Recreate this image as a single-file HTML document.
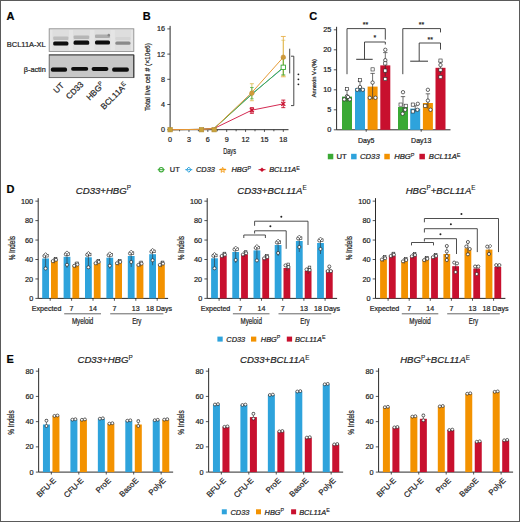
<!DOCTYPE html>
<html><head><meta charset="utf-8"><style>
html,body{margin:0;padding:0;background:#fff;width:520px;height:522px;overflow:hidden}
svg{display:block}
text{font-family:"Liberation Sans",sans-serif;stroke:#2a2a2a;stroke-width:0.22px}
</style></head><body>
<svg width="520" height="522" viewBox="0 0 520 522" font-family="Liberation Sans, sans-serif">
<rect width="520" height="522" fill="#fff"/>
<rect x="0.5" y="0.5" width="519" height="521" fill="none" stroke="#5a5a5a" stroke-width="1"/>
<text x="6.4" y="19.7" font-size="11" text-anchor="start" font-weight="bold" font-style="normal" fill="#000" >A</text>
<text x="142.8" y="19.7" font-size="11" text-anchor="start" font-weight="bold" font-style="normal" fill="#000" >B</text>
<text x="309.3" y="19.9" font-size="11" text-anchor="start" font-weight="bold" font-style="normal" fill="#000" >C</text>
<text x="6.6" y="192.6" font-size="11" text-anchor="start" font-weight="bold" font-style="normal" fill="#000" >D</text>
<text x="6.6" y="362.6" font-size="11" text-anchor="start" font-weight="bold" font-style="normal" fill="#000" >E</text>
<defs><filter id="bl" x="-20%" y="-50%" width="140%" height="200%"><feGaussianBlur stdDeviation="0.7"/></filter><filter id="bl2" x="-20%" y="-50%" width="140%" height="200%"><feGaussianBlur stdDeviation="0.5"/></filter></defs>
<rect x="49.2" y="28.8" width="84.6" height="22.6" fill="#e5e5e5" stroke="#8e8e8e" stroke-width="0.9"/>
<rect x="52.5" y="30" width="16.5" height="20.5" fill="#dedede" filter="url(#bl)"/>
<rect x="73" y="30" width="17" height="20.5" fill="#dedede" filter="url(#bl)"/>
<rect x="94.5" y="30" width="16" height="20.5" fill="#dedede" filter="url(#bl)"/>
<rect x="114.8" y="30" width="16.2" height="20.5" fill="#dedede" filter="url(#bl)"/>
<rect x="49.2" y="54.8" width="84.6" height="22.8" fill="#c7c7c7" stroke="#5e5e5e" stroke-width="0.9"/>
<line x1="49.2" y1="55" x2="133.8" y2="55" stroke="#444" stroke-width="0.8" />
<line x1="133.8" y1="55" x2="133.8" y2="77.6" stroke="#333" stroke-width="1.0" />
<rect x="53.2" y="36.6" width="15.2" height="3.4" rx="1" fill="#bdbdbd" filter="url(#bl)"/>
<rect x="53.2" y="41.6" width="15.2" height="4" rx="1.5" fill="#0a0a0a" filter="url(#bl2)"/>
<rect x="73.6" y="35.4" width="15.6" height="3.6" rx="1" fill="#b5b5b5" filter="url(#bl)"/>
<rect x="73.6" y="40.4" width="15.6" height="4.3" rx="1.5" fill="#0a0a0a" filter="url(#bl2)"/>
<rect x="95" y="34.6" width="15" height="3.4" rx="1" fill="#adadad" filter="url(#bl)"/>
<rect x="95" y="40.4" width="15" height="4.1" rx="1.5" fill="#0a0a0a" filter="url(#bl2)"/>
<rect x="115.3" y="37" width="15.2" height="3" rx="1" fill="#d4d4d4" filter="url(#bl)"/>
<rect x="115.3" y="41.4" width="15.2" height="3.3" rx="1.5" fill="#8a8a8a" filter="url(#bl2)"/>
<rect x="50.8" y="67.6" width="16.3" height="4.2" rx="1.8" fill="#0c0c0c" filter="url(#bl2)"/>
<rect x="71.1" y="66.9" width="17.1" height="3.8" rx="1.8" fill="#0c0c0c" filter="url(#bl2)"/>
<rect x="91.6" y="67.1" width="16.8" height="3.8" rx="1.8" fill="#0c0c0c" filter="url(#bl2)"/>
<rect x="112.1" y="67.6" width="16.8" height="4.2" rx="1.8" fill="#0c0c0c" filter="url(#bl2)"/>
<ellipse cx="108.8" cy="35.2" rx="1.2" ry="1.4" fill="#888" filter="url(#bl2)"/>
<text x="45.8" y="47.4" font-size="7.5" text-anchor="end" font-weight="normal" font-style="normal" fill="#222" >BCL11A-XL</text>
<text x="45.8" y="71.6" font-size="7.3" text-anchor="end" font-weight="normal" font-style="normal" fill="#222" >β-actin</text>
<text x="0" y="0" font-size="8.2" text-anchor="end" fill="#222" transform="translate(64.5,86) rotate(-45)">UT</text>
<text x="0" y="0" font-size="8.2" text-anchor="end" fill="#222" transform="translate(84,85) rotate(-45)">CD33</text>
<text x="0" y="0" font-size="8.2" text-anchor="end" fill="#222" transform="translate(105,85.5) rotate(-45)">HBG<tspan font-size="5.9" dy="-2.95" font-style="normal" style="stroke-width:0.12px">P</tspan></text>
<text x="0" y="0" font-size="8.2" text-anchor="end" fill="#222" transform="translate(128,86) rotate(-45)">BCL11A<tspan font-size="5.9" dy="-2.95" font-style="normal" style="stroke-width:0.12px">E</tspan></text>
<line x1="170.1" y1="25.9" x2="170.1" y2="129.7" stroke="#2a2a2a" stroke-width="1.0" />
<line x1="170.1" y1="129.7" x2="288.5" y2="129.7" stroke="#2a2a2a" stroke-width="1.0" />
<line x1="167.3" y1="129.7" x2="170.1" y2="129.7" stroke="#2a2a2a" stroke-width="0.8" />
<text x="164.9" y="132.2" font-size="7.2" text-anchor="end" font-weight="normal" font-style="normal" fill="#222" >0</text>
<line x1="167.3" y1="104.5" x2="170.1" y2="104.5" stroke="#2a2a2a" stroke-width="0.8" />
<text x="164.9" y="107" font-size="7.2" text-anchor="end" font-weight="normal" font-style="normal" fill="#222" >4</text>
<line x1="167.3" y1="79.3" x2="170.1" y2="79.3" stroke="#2a2a2a" stroke-width="0.8" />
<text x="164.9" y="81.8" font-size="7.2" text-anchor="end" font-weight="normal" font-style="normal" fill="#222" >8</text>
<line x1="167.3" y1="54.1" x2="170.1" y2="54.1" stroke="#2a2a2a" stroke-width="0.8" />
<text x="164.9" y="56.6" font-size="7.2" text-anchor="end" font-weight="normal" font-style="normal" fill="#222" >12</text>
<line x1="167.3" y1="28.9" x2="170.1" y2="28.9" stroke="#2a2a2a" stroke-width="0.8" />
<text x="164.9" y="31.4" font-size="7.2" text-anchor="end" font-weight="normal" font-style="normal" fill="#222" >16</text>
<line x1="170.1" y1="129.7" x2="170.1" y2="131.9" stroke="#2a2a2a" stroke-width="0.8" />
<line x1="179.53" y1="129.7" x2="179.53" y2="131.3" stroke="#2a2a2a" stroke-width="0.8" />
<line x1="188.97" y1="129.7" x2="188.97" y2="131.9" stroke="#2a2a2a" stroke-width="0.8" />
<line x1="198.4" y1="129.7" x2="198.4" y2="131.3" stroke="#2a2a2a" stroke-width="0.8" />
<line x1="207.83" y1="129.7" x2="207.83" y2="131.9" stroke="#2a2a2a" stroke-width="0.8" />
<line x1="217.27" y1="129.7" x2="217.27" y2="131.3" stroke="#2a2a2a" stroke-width="0.8" />
<line x1="226.7" y1="129.7" x2="226.7" y2="131.9" stroke="#2a2a2a" stroke-width="0.8" />
<line x1="236.13" y1="129.7" x2="236.13" y2="131.3" stroke="#2a2a2a" stroke-width="0.8" />
<line x1="245.57" y1="129.7" x2="245.57" y2="131.9" stroke="#2a2a2a" stroke-width="0.8" />
<line x1="255" y1="129.7" x2="255" y2="131.3" stroke="#2a2a2a" stroke-width="0.8" />
<line x1="264.44" y1="129.7" x2="264.44" y2="131.9" stroke="#2a2a2a" stroke-width="0.8" />
<line x1="273.87" y1="129.7" x2="273.87" y2="131.3" stroke="#2a2a2a" stroke-width="0.8" />
<line x1="283.3" y1="129.7" x2="283.3" y2="131.9" stroke="#2a2a2a" stroke-width="0.8" />
<text x="170.1" y="141.8" font-size="7.2" text-anchor="middle" font-weight="normal" font-style="normal" fill="#222" >0</text>
<text x="188.97" y="141.8" font-size="7.2" text-anchor="middle" font-weight="normal" font-style="normal" fill="#222" >3</text>
<text x="207.83" y="141.8" font-size="7.2" text-anchor="middle" font-weight="normal" font-style="normal" fill="#222" >6</text>
<text x="226.7" y="141.8" font-size="7.2" text-anchor="middle" font-weight="normal" font-style="normal" fill="#222" >9</text>
<text x="245.57" y="141.8" font-size="7.2" text-anchor="middle" font-weight="normal" font-style="normal" fill="#222" >12</text>
<text x="264.44" y="141.8" font-size="7.2" text-anchor="middle" font-weight="normal" font-style="normal" fill="#222" >15</text>
<text x="283.3" y="141.8" font-size="7.2" text-anchor="middle" font-weight="normal" font-style="normal" fill="#222" >18</text>
<text x="0" y="0" font-size="9" fill="#222" text-anchor="middle" transform="translate(229.6,154.1) scale(0.62,1)">Days</text>
<text x="0" y="0" font-size="8" fill="#222" text-anchor="middle" transform="translate(149.7,77) rotate(-90) scale(0.83,1)">Total live cell # (×10e6)</text>
<polyline points="170.1,129.7 201.54,129.38 214.12,128.44 251.86,93.79 283.3,67.96" fill="none" stroke="#2ea3dc" stroke-width="1.0"/>
<polyline points="170.1,129.7 201.54,129.38 214.12,128.44 251.86,94.42 283.3,67.33" fill="none" stroke="#52ab42" stroke-width="1.0"/>
<polyline points="170.1,129.7 201.54,129.38 214.12,128.44 251.86,110.17 283.3,103.87" fill="none" stroke="#d42a52" stroke-width="1.0"/>
<polyline points="170.1,129.7 201.54,129.38 214.12,128.44 251.86,92.53 283.3,57.25" fill="none" stroke="#e49a35" stroke-width="1.0"/>
<line x1="283.3" y1="36.46" x2="283.3" y2="76.78" stroke="#e8b04a" stroke-width="0.9" />
<line x1="280.9" y1="36.46" x2="285.7" y2="36.46" stroke="#e8b04a" stroke-width="0.9" />
<line x1="280.9" y1="76.78" x2="285.7" y2="76.78" stroke="#e8b04a" stroke-width="0.9" />
<line x1="283.3" y1="40.24" x2="283.3" y2="75.52" stroke="#d9b84a" stroke-width="0.6" />
<line x1="281.3" y1="40.24" x2="285.3" y2="40.24" stroke="#d9b84a" stroke-width="0.6" />
<line x1="281.3" y1="75.52" x2="285.3" y2="75.52" stroke="#d9b84a" stroke-width="0.6" />
<line x1="283.3" y1="58.51" x2="283.3" y2="74.89" stroke="#3aa935" stroke-width="0.8" />
<line x1="281.3" y1="58.51" x2="285.3" y2="58.51" stroke="#3aa935" stroke-width="0.8" />
<line x1="281.3" y1="74.89" x2="285.3" y2="74.89" stroke="#3aa935" stroke-width="0.8" />
<line x1="251.86" y1="83.71" x2="251.86" y2="100.72" stroke="#d9b84a" stroke-width="0.8" />
<line x1="249.86" y1="83.71" x2="253.86" y2="83.71" stroke="#d9b84a" stroke-width="0.8" />
<line x1="249.86" y1="100.72" x2="253.86" y2="100.72" stroke="#d9b84a" stroke-width="0.8" />
<line x1="251.86" y1="87.49" x2="251.86" y2="98.83" stroke="#3aa935" stroke-width="0.7" />
<line x1="250.06" y1="87.49" x2="253.66" y2="87.49" stroke="#3aa935" stroke-width="0.7" />
<line x1="250.06" y1="98.83" x2="253.66" y2="98.83" stroke="#3aa935" stroke-width="0.7" />
<line x1="283.3" y1="100.09" x2="283.3" y2="107.65" stroke="#c8102e" stroke-width="0.9" />
<line x1="281.3" y1="100.09" x2="285.3" y2="100.09" stroke="#c8102e" stroke-width="0.9" />
<line x1="281.3" y1="107.65" x2="285.3" y2="107.65" stroke="#c8102e" stroke-width="0.9" />
<line x1="251.86" y1="107.65" x2="251.86" y2="113.32" stroke="#c8102e" stroke-width="0.9" />
<line x1="249.86" y1="107.65" x2="253.86" y2="107.65" stroke="#c8102e" stroke-width="0.9" />
<line x1="249.86" y1="113.32" x2="253.86" y2="113.32" stroke="#c8102e" stroke-width="0.9" />
<rect x="167.9" y="127.5" width="4.4" height="4.4" fill="#c9a23c" stroke="#b08a30" stroke-width="0.6"/>
<rect x="199.34" y="127.5" width="4.4" height="4.4" fill="#c9a23c" stroke="#b08a30" stroke-width="0.6"/>
<rect x="211.92" y="127.5" width="4.4" height="4.4" fill="#c9a23c" stroke="#b08a30" stroke-width="0.6"/>
<rect x="281.1" y="65.13" width="4.4" height="4.4" fill="#fff" stroke="#3aa935" stroke-width="0.9"/>
<circle cx="283.3" cy="57.25" r="2.3" fill="#d09a3a" stroke="#c08a30" stroke-width="0.5"/>
<circle cx="251.86" cy="93.16" r="2.3" fill="#d09a3a" stroke="#c08a30" stroke-width="0.5"/>
<path d="M249.86,108.17 L253.86,112.17 M253.86,108.17 L249.86,112.17" stroke="#c8102e" stroke-width="1.3"/>
<path d="M281.3,101.87 L285.3,105.87 M285.3,101.87 L281.3,105.87" stroke="#c8102e" stroke-width="1.3"/>
<line x1="289.7" y1="48.7" x2="289.7" y2="73.4" stroke="#333" stroke-width="0.9" />
<polyline points="291,56.2 293.8,56.2 293.8,105.6 291,105.6" fill="none" stroke="#333" stroke-width="0.9"/>
<circle cx="298.4" cy="74.3" r="0.9" fill="#222"/>
<circle cx="298.4" cy="79.3" r="0.9" fill="#222"/>
<circle cx="298.4" cy="84.3" r="0.9" fill="#222"/>
<line x1="157.7" y1="169.7" x2="164.7" y2="169.7" stroke="#3aa935" stroke-width="1"/>
<circle cx="161.2" cy="169.7" r="2.2" fill="none" stroke="#3aa935" stroke-width="1.1"/>
<text x="169.8" y="172.4" font-size="7.4" text-anchor="start" font-weight="normal" font-style="normal" fill="#222" >UT</text>
<line x1="185.3" y1="169.7" x2="192.3" y2="169.7" stroke="#2ea3dc" stroke-width="1"/>
<path d="M188.8,167.1 L191.2,169.7 L188.8,172.3 L186.4,169.7 Z" fill="none" stroke="#2ea3dc" stroke-width="1"/>
<text x="196" y="172.4" font-size="7.4" text-anchor="start" font-weight="normal" font-style="italic" fill="#222" >CD33</text>
<line x1="219.2" y1="169.7" x2="226.2" y2="169.7" stroke="#f39200" stroke-width="1"/>
<polygon points="222.7,167.3 223.41,169.13 225.36,169.23 223.84,170.47 224.35,172.37 222.7,171.3 221.05,172.37 221.56,170.47 220.04,169.23 221.99,169.13" fill="none" stroke="#f39200" stroke-width="0.8"/>
<text x="231.4" y="172.4" font-size="7.4" text-anchor="start" font-weight="normal" font-style="italic" fill="#222" >HBG<tspan font-size="5.33" dy="-2.66" font-style="normal" style="stroke-width:0.12px">P</tspan></text>
<line x1="258.5" y1="169.7" x2="265.5" y2="169.7" stroke="#c8102e" stroke-width="1"/>
<path d="M262,167.4 L264.3,169.7 L262,172 L259.7,169.7 Z" fill="#c8102e"/>
<text x="269.2" y="172.4" font-size="7.4" text-anchor="start" font-weight="normal" font-style="italic" fill="#222" >BCL11A<tspan font-size="5.33" dy="-2.66" font-style="normal" style="stroke-width:0.12px">E</tspan></text>
<line x1="336.6" y1="26.8" x2="336.6" y2="129.8" stroke="#2a2a2a" stroke-width="1.0" />
<line x1="336.6" y1="129.8" x2="450.5" y2="129.8" stroke="#2a2a2a" stroke-width="1.0" />
<line x1="333.8" y1="129.8" x2="336.6" y2="129.8" stroke="#2a2a2a" stroke-width="0.8" />
<text x="331.4" y="132.4" font-size="7.4" text-anchor="end" font-weight="normal" font-style="normal" fill="#222" >0</text>
<line x1="333.8" y1="109.8" x2="336.6" y2="109.8" stroke="#2a2a2a" stroke-width="0.8" />
<text x="331.4" y="112.4" font-size="7.4" text-anchor="end" font-weight="normal" font-style="normal" fill="#222" >5</text>
<line x1="333.8" y1="89.8" x2="336.6" y2="89.8" stroke="#2a2a2a" stroke-width="0.8" />
<text x="331.4" y="92.4" font-size="7.4" text-anchor="end" font-weight="normal" font-style="normal" fill="#222" >10</text>
<line x1="333.8" y1="69.8" x2="336.6" y2="69.8" stroke="#2a2a2a" stroke-width="0.8" />
<text x="331.4" y="72.4" font-size="7.4" text-anchor="end" font-weight="normal" font-style="normal" fill="#222" >15</text>
<line x1="333.8" y1="49.8" x2="336.6" y2="49.8" stroke="#2a2a2a" stroke-width="0.8" />
<text x="331.4" y="52.4" font-size="7.4" text-anchor="end" font-weight="normal" font-style="normal" fill="#222" >20</text>
<line x1="333.8" y1="29.8" x2="336.6" y2="29.8" stroke="#2a2a2a" stroke-width="0.8" />
<text x="331.4" y="32.4" font-size="7.4" text-anchor="end" font-weight="normal" font-style="normal" fill="#222" >25</text>
<line x1="366.2" y1="129.8" x2="366.2" y2="131.8" stroke="#2a2a2a" stroke-width="0.8" />
<line x1="421.2" y1="129.8" x2="421.2" y2="131.8" stroke="#2a2a2a" stroke-width="0.8" />
<text x="0" y="0" font-size="5.6" fill="#222" text-anchor="middle" transform="translate(316.4,78.2) rotate(-90) scale(1.02,1)">Annexin V+(%)</text>
<text x="366.2" y="142.6" font-size="7" text-anchor="middle" font-weight="normal" font-style="normal" fill="#222" >Day5</text>
<text x="421.2" y="142.6" font-size="7" text-anchor="middle" font-weight="normal" font-style="normal" fill="#222" >Day13</text>
<rect x="342" y="96.6" width="10" height="33.2" fill="#3aa935" />
<rect x="355" y="88.2" width="10" height="41.6" fill="#2ea3dc" />
<rect x="367.6" y="86.6" width="10" height="43.2" fill="#f39200" />
<rect x="380.3" y="65.4" width="10" height="64.4" fill="#c8102e" />
<rect x="398" y="107" width="10" height="22.8" fill="#3aa935" />
<rect x="410.2" y="108.6" width="10" height="21.2" fill="#2ea3dc" />
<rect x="422.9" y="103" width="10" height="26.8" fill="#f39200" />
<rect x="435.5" y="67.8" width="10" height="62" fill="#c8102e" />
<line x1="347" y1="89.8" x2="347" y2="101.8" stroke="#333" stroke-width="0.7" />
<line x1="344.8" y1="89.8" x2="349.2" y2="89.8" stroke="#333" stroke-width="0.7" />
<line x1="360" y1="81" x2="360" y2="92.2" stroke="#333" stroke-width="0.7" />
<line x1="357.8" y1="81" x2="362.2" y2="81" stroke="#333" stroke-width="0.7" />
<line x1="372.6" y1="73.4" x2="372.6" y2="99.4" stroke="#333" stroke-width="0.7" />
<line x1="370.4" y1="73.4" x2="374.8" y2="73.4" stroke="#333" stroke-width="0.7" />
<line x1="385.3" y1="52.6" x2="385.3" y2="76.2" stroke="#333" stroke-width="0.7" />
<line x1="383.1" y1="52.6" x2="387.5" y2="52.6" stroke="#333" stroke-width="0.7" />
<line x1="403" y1="96.6" x2="403" y2="113" stroke="#333" stroke-width="0.7" />
<line x1="400.8" y1="96.6" x2="405.2" y2="96.6" stroke="#333" stroke-width="0.7" />
<line x1="415.2" y1="105.8" x2="415.2" y2="111.8" stroke="#333" stroke-width="0.7" />
<line x1="413" y1="105.8" x2="417.4" y2="105.8" stroke="#333" stroke-width="0.7" />
<line x1="427.9" y1="93.8" x2="427.9" y2="108.6" stroke="#333" stroke-width="0.7" />
<line x1="425.7" y1="93.8" x2="430.1" y2="93.8" stroke="#333" stroke-width="0.7" />
<line x1="440.5" y1="61.8" x2="440.5" y2="73.8" stroke="#333" stroke-width="0.7" />
<line x1="438.3" y1="61.8" x2="442.7" y2="61.8" stroke="#333" stroke-width="0.7" />
<rect x="345.4" y="87.4" width="3.2" height="3.2" fill="#fff" stroke="#262626" stroke-width="0.6"/>
<circle cx="347" cy="96.2" r="1.7" fill="#fff" stroke="#262626" stroke-width="0.7"/>
<circle cx="344.2" cy="99.4" r="1.7" fill="#fff" stroke="#262626" stroke-width="0.7"/>
<circle cx="349.8" cy="99.4" r="1.7" fill="#fff" stroke="#262626" stroke-width="0.7"/>
<circle cx="348" cy="97" r="1.7" fill="#fff" stroke="#262626" stroke-width="0.7"/>
<rect x="358.4" y="78.6" width="3.2" height="3.2" fill="#fff" stroke="#262626" stroke-width="0.6"/>
<circle cx="360" cy="87" r="1.7" fill="#fff" stroke="#262626" stroke-width="0.7"/>
<circle cx="357.2" cy="89.8" r="1.7" fill="#fff" stroke="#262626" stroke-width="0.7"/>
<circle cx="362.8" cy="89.8" r="1.7" fill="#fff" stroke="#262626" stroke-width="0.7"/>
<rect x="371" y="67.8" width="3.2" height="3.2" fill="#fff" stroke="#262626" stroke-width="0.6"/>
<circle cx="372.6" cy="82.6" r="1.7" fill="#fff" stroke="#262626" stroke-width="0.7"/>
<circle cx="369.8" cy="97.8" r="1.7" fill="#fff" stroke="#262626" stroke-width="0.7"/>
<circle cx="375.4" cy="97.8" r="1.7" fill="#fff" stroke="#262626" stroke-width="0.7"/>
<circle cx="385.3" cy="49.8" r="1.7" fill="#fff" stroke="#262626" stroke-width="0.7"/>
<circle cx="385.3" cy="60.2" r="1.7" fill="#fff" stroke="#262626" stroke-width="0.7"/>
<rect x="383.7" y="61.8" width="3.2" height="3.2" fill="#fff" stroke="#262626" stroke-width="0.6"/>
<rect x="383.7" y="69" width="3.2" height="3.2" fill="#fff" stroke="#262626" stroke-width="0.6"/>
<rect x="383.7" y="77.4" width="3.2" height="3.2" fill="#fff" stroke="#262626" stroke-width="0.6"/>
<circle cx="403" cy="92.2" r="1.7" fill="#fff" stroke="#262626" stroke-width="0.7"/>
<rect x="399" y="103" width="3.2" height="3.2" fill="#fff" stroke="#262626" stroke-width="0.6"/>
<circle cx="405.2" cy="109.8" r="1.7" fill="#fff" stroke="#262626" stroke-width="0.7"/>
<circle cx="402.6" cy="113.8" r="1.7" fill="#fff" stroke="#262626" stroke-width="0.7"/>
<rect x="404.2" y="104.2" width="3.2" height="3.2" fill="#fff" stroke="#262626" stroke-width="0.6"/>
<rect x="411.2" y="103" width="3.2" height="3.2" fill="#fff" stroke="#262626" stroke-width="0.6"/>
<circle cx="417.8" cy="103.8" r="1.7" fill="#fff" stroke="#262626" stroke-width="0.7"/>
<rect x="411.2" y="109.8" width="3.2" height="3.2" fill="#fff" stroke="#262626" stroke-width="0.6"/>
<circle cx="417.4" cy="109.8" r="1.7" fill="#fff" stroke="#262626" stroke-width="0.7"/>
<circle cx="427.9" cy="89.8" r="1.7" fill="#fff" stroke="#262626" stroke-width="0.7"/>
<circle cx="427.9" cy="100.6" r="1.7" fill="#fff" stroke="#262626" stroke-width="0.7"/>
<rect x="423.7" y="104.2" width="3.2" height="3.2" fill="#fff" stroke="#262626" stroke-width="0.6"/>
<circle cx="430.5" cy="109.8" r="1.7" fill="#fff" stroke="#262626" stroke-width="0.7"/>
<rect x="438.9" y="59" width="3.2" height="3.2" fill="#fff" stroke="#262626" stroke-width="0.6"/>
<circle cx="440.5" cy="65" r="1.7" fill="#fff" stroke="#262626" stroke-width="0.7"/>
<rect x="438.9" y="68.2" width="3.2" height="3.2" fill="#fff" stroke="#262626" stroke-width="0.6"/>
<rect x="438.9" y="75.4" width="3.2" height="3.2" fill="#fff" stroke="#262626" stroke-width="0.6"/>
<polyline points="347,74.2 347,28.6 385.3,28.6 385.3,39.6" fill="none" stroke="#333" stroke-width="0.9"/>
<polyline points="364.5,59.2 364.5,42 385.3,42 385.3,44.5" fill="none" stroke="#333" stroke-width="0.9"/>
<line x1="356.2" y1="59.3" x2="372.7" y2="59.3" stroke="#333" stroke-width="1.0" />
<text x="365.6" y="26.8" font-size="7" text-anchor="middle" font-weight="normal" font-style="normal" fill="#222" >**</text>
<text x="374.8" y="40.3" font-size="7" text-anchor="middle" font-weight="normal" font-style="normal" fill="#222" >*</text>
<polyline points="402.8,74.2 402.8,28.6 440.5,28.6 440.5,32.4" fill="none" stroke="#333" stroke-width="0.9"/>
<polyline points="419.2,61 419.2,43 440.5,43 440.5,49.6" fill="none" stroke="#333" stroke-width="0.9"/>
<line x1="410.2" y1="61.2" x2="428" y2="61.2" stroke="#333" stroke-width="1.0" />
<text x="421.4" y="26.8" font-size="7" text-anchor="middle" font-weight="normal" font-style="normal" fill="#222" >**</text>
<text x="430.2" y="42.2" font-size="7" text-anchor="middle" font-weight="normal" font-style="normal" fill="#222" >**</text>
<rect x="327.8" y="153.8" width="5.5" height="5.5" fill="#3aa935" />
<rect x="351.1" y="153.8" width="5.5" height="5.5" fill="#2ea3dc" />
<rect x="384.3" y="153.8" width="5.5" height="5.5" fill="#f39200" />
<rect x="419.4" y="153.8" width="5.5" height="5.5" fill="#c8102e" />
<text x="336.4" y="159.3" font-size="7.7" text-anchor="start" font-weight="normal" font-style="normal" fill="#222" >UT</text>
<text x="360" y="159.3" font-size="7.7" text-anchor="start" font-weight="normal" font-style="italic" fill="#222" >CD33</text>
<text x="394.2" y="159.3" font-size="7.7" text-anchor="start" font-weight="normal" font-style="italic" fill="#222" >HBG<tspan font-size="5.54" dy="-2.77" font-style="normal" style="stroke-width:0.12px">P</tspan></text>
<text x="428.8" y="159.3" font-size="7.7" text-anchor="start" font-weight="normal" font-style="italic" fill="#222" >BCL11A<tspan font-size="5.54" dy="-2.77" font-style="normal" style="stroke-width:0.12px">E</tspan></text>
<line x1="38.2" y1="198.15" x2="38.2" y2="298.4" stroke="#2a2a2a" stroke-width="1.0" />
<line x1="38.2" y1="298.4" x2="168.1" y2="298.4" stroke="#2a2a2a" stroke-width="1.0" />
<line x1="35.4" y1="298.4" x2="38.2" y2="298.4" stroke="#2a2a2a" stroke-width="0.8" />
<text x="33.2" y="300.95" font-size="7.3" text-anchor="end" font-weight="normal" font-style="normal" fill="#222" >0</text>
<line x1="35.4" y1="278.95" x2="38.2" y2="278.95" stroke="#2a2a2a" stroke-width="0.8" />
<text x="33.2" y="281.5" font-size="7.3" text-anchor="end" font-weight="normal" font-style="normal" fill="#222" >20</text>
<line x1="35.4" y1="259.5" x2="38.2" y2="259.5" stroke="#2a2a2a" stroke-width="0.8" />
<text x="33.2" y="262.05" font-size="7.3" text-anchor="end" font-weight="normal" font-style="normal" fill="#222" >40</text>
<line x1="35.4" y1="240.05" x2="38.2" y2="240.05" stroke="#2a2a2a" stroke-width="0.8" />
<text x="33.2" y="242.6" font-size="7.3" text-anchor="end" font-weight="normal" font-style="normal" fill="#222" >60</text>
<line x1="35.4" y1="220.6" x2="38.2" y2="220.6" stroke="#2a2a2a" stroke-width="0.8" />
<text x="33.2" y="223.15" font-size="7.3" text-anchor="end" font-weight="normal" font-style="normal" fill="#222" >80</text>
<line x1="35.4" y1="201.15" x2="38.2" y2="201.15" stroke="#2a2a2a" stroke-width="0.8" />
<text x="33.2" y="203.7" font-size="7.3" text-anchor="end" font-weight="normal" font-style="normal" fill="#222" >100</text>
<text x="0" y="0" font-size="8.6" fill="#222" text-anchor="middle" transform="translate(14.8,248.2) rotate(-90) scale(0.74,1)">% Indels</text>
<line x1="50.2" y1="298.4" x2="50.2" y2="300.8" stroke="#2a2a2a" stroke-width="0.8" />
<rect x="42.2" y="258.5" width="6.8" height="39.9" fill="#2ea3dc" />
<rect x="51" y="260.8" width="6.8" height="37.6" fill="#f39200" />
<line x1="45.6" y1="254" x2="45.6" y2="269.5" stroke="#333" stroke-width="0.6" />
<line x1="44.2" y1="254" x2="47" y2="254" stroke="#333" stroke-width="0.6" />
<circle cx="44.4" cy="256" r="1.55" fill="#fff" stroke="#262626" stroke-width="0.7"/>
<rect x="45.6" y="254.4" width="2.6" height="2.6" fill="#fff" stroke="#262626" stroke-width="0.6"/>
<path d="M45.6,252.6 L47.3,254.3 L45.6,256 L43.9,254.3 Z" fill="#fff" stroke="#262626" stroke-width="0.6"/>
<circle cx="45.6" cy="268.5" r="1.55" fill="#fff" stroke="#262626" stroke-width="0.7"/>
<line x1="54.4" y1="258.3" x2="54.4" y2="263.3" stroke="#333" stroke-width="0.6" />
<line x1="53" y1="258.3" x2="55.8" y2="258.3" stroke="#333" stroke-width="0.6" />
<circle cx="52.8" cy="261.1" r="1.55" fill="#fff" stroke="#262626" stroke-width="0.7"/>
<rect x="54.3" y="257.3" width="2.6" height="2.6" fill="#fff" stroke="#262626" stroke-width="0.6"/>
<circle cx="56" cy="259.8" r="1.55" fill="#fff" stroke="#262626" stroke-width="0.7"/>
<line x1="71.6" y1="298.4" x2="71.6" y2="300.8" stroke="#2a2a2a" stroke-width="0.8" />
<rect x="63.6" y="256.8" width="6.8" height="41.6" fill="#2ea3dc" />
<rect x="72.4" y="265.5" width="6.8" height="32.9" fill="#f39200" />
<line x1="67" y1="252.3" x2="67" y2="267.8" stroke="#333" stroke-width="0.6" />
<line x1="65.6" y1="252.3" x2="68.4" y2="252.3" stroke="#333" stroke-width="0.6" />
<circle cx="65.8" cy="254.3" r="1.55" fill="#fff" stroke="#262626" stroke-width="0.7"/>
<rect x="67" y="252.7" width="2.6" height="2.6" fill="#fff" stroke="#262626" stroke-width="0.6"/>
<path d="M67,250.9 L68.7,252.6 L67,254.3 L65.3,252.6 Z" fill="#fff" stroke="#262626" stroke-width="0.6"/>
<circle cx="67" cy="264.8" r="1.55" fill="#fff" stroke="#262626" stroke-width="0.7"/>
<line x1="75.8" y1="263" x2="75.8" y2="268" stroke="#333" stroke-width="0.6" />
<line x1="74.4" y1="263" x2="77.2" y2="263" stroke="#333" stroke-width="0.6" />
<circle cx="74.2" cy="265.8" r="1.55" fill="#fff" stroke="#262626" stroke-width="0.7"/>
<rect x="75.7" y="262" width="2.6" height="2.6" fill="#fff" stroke="#262626" stroke-width="0.6"/>
<circle cx="77.4" cy="264.5" r="1.55" fill="#fff" stroke="#262626" stroke-width="0.7"/>
<line x1="93" y1="298.4" x2="93" y2="300.8" stroke="#2a2a2a" stroke-width="0.8" />
<rect x="85" y="257.3" width="6.8" height="41.1" fill="#2ea3dc" />
<rect x="93.8" y="262.9" width="6.8" height="35.5" fill="#f39200" />
<line x1="88.4" y1="252.8" x2="88.4" y2="268.3" stroke="#333" stroke-width="0.6" />
<line x1="87" y1="252.8" x2="89.8" y2="252.8" stroke="#333" stroke-width="0.6" />
<circle cx="87.2" cy="254.8" r="1.55" fill="#fff" stroke="#262626" stroke-width="0.7"/>
<rect x="88.4" y="253.2" width="2.6" height="2.6" fill="#fff" stroke="#262626" stroke-width="0.6"/>
<path d="M88.4,251.4 L90.1,253.1 L88.4,254.8 L86.7,253.1 Z" fill="#fff" stroke="#262626" stroke-width="0.6"/>
<circle cx="88.4" cy="267.3" r="1.55" fill="#fff" stroke="#262626" stroke-width="0.7"/>
<line x1="97.2" y1="260.4" x2="97.2" y2="265.4" stroke="#333" stroke-width="0.6" />
<line x1="95.8" y1="260.4" x2="98.6" y2="260.4" stroke="#333" stroke-width="0.6" />
<circle cx="95.6" cy="263.2" r="1.55" fill="#fff" stroke="#262626" stroke-width="0.7"/>
<rect x="97.1" y="259.4" width="2.6" height="2.6" fill="#fff" stroke="#262626" stroke-width="0.6"/>
<circle cx="98.8" cy="261.9" r="1.55" fill="#fff" stroke="#262626" stroke-width="0.7"/>
<line x1="114.4" y1="298.4" x2="114.4" y2="300.8" stroke="#2a2a2a" stroke-width="0.8" />
<rect x="106.4" y="257.7" width="6.8" height="40.7" fill="#2ea3dc" />
<rect x="115.2" y="262.9" width="6.8" height="35.5" fill="#f39200" />
<line x1="109.8" y1="253.2" x2="109.8" y2="268.7" stroke="#333" stroke-width="0.6" />
<line x1="108.4" y1="253.2" x2="111.2" y2="253.2" stroke="#333" stroke-width="0.6" />
<circle cx="108.6" cy="255.2" r="1.55" fill="#fff" stroke="#262626" stroke-width="0.7"/>
<rect x="109.8" y="253.6" width="2.6" height="2.6" fill="#fff" stroke="#262626" stroke-width="0.6"/>
<path d="M109.8,251.8 L111.5,253.5 L109.8,255.2 L108.1,253.5 Z" fill="#fff" stroke="#262626" stroke-width="0.6"/>
<circle cx="109.8" cy="265.7" r="1.55" fill="#fff" stroke="#262626" stroke-width="0.7"/>
<line x1="118.6" y1="260.4" x2="118.6" y2="265.4" stroke="#333" stroke-width="0.6" />
<line x1="117.2" y1="260.4" x2="120" y2="260.4" stroke="#333" stroke-width="0.6" />
<circle cx="117" cy="263.2" r="1.55" fill="#fff" stroke="#262626" stroke-width="0.7"/>
<rect x="118.5" y="259.4" width="2.6" height="2.6" fill="#fff" stroke="#262626" stroke-width="0.6"/>
<circle cx="120.2" cy="261.9" r="1.55" fill="#fff" stroke="#262626" stroke-width="0.7"/>
<line x1="135.8" y1="298.4" x2="135.8" y2="300.8" stroke="#2a2a2a" stroke-width="0.8" />
<rect x="127.8" y="256" width="6.8" height="42.4" fill="#2ea3dc" />
<rect x="136.6" y="264.6" width="6.8" height="33.8" fill="#f39200" />
<line x1="131.2" y1="251.5" x2="131.2" y2="267" stroke="#333" stroke-width="0.6" />
<line x1="129.8" y1="251.5" x2="132.6" y2="251.5" stroke="#333" stroke-width="0.6" />
<circle cx="130" cy="253.5" r="1.55" fill="#fff" stroke="#262626" stroke-width="0.7"/>
<rect x="131.2" y="251.9" width="2.6" height="2.6" fill="#fff" stroke="#262626" stroke-width="0.6"/>
<path d="M131.2,250.1 L132.9,251.8 L131.2,253.5 L129.5,251.8 Z" fill="#fff" stroke="#262626" stroke-width="0.6"/>
<circle cx="131.2" cy="262" r="1.55" fill="#fff" stroke="#262626" stroke-width="0.7"/>
<line x1="140" y1="262.1" x2="140" y2="267.1" stroke="#333" stroke-width="0.6" />
<line x1="138.6" y1="262.1" x2="141.4" y2="262.1" stroke="#333" stroke-width="0.6" />
<circle cx="138.4" cy="264.9" r="1.55" fill="#fff" stroke="#262626" stroke-width="0.7"/>
<rect x="139.9" y="261.1" width="2.6" height="2.6" fill="#fff" stroke="#262626" stroke-width="0.6"/>
<circle cx="141.6" cy="263.6" r="1.55" fill="#fff" stroke="#262626" stroke-width="0.7"/>
<line x1="157.2" y1="298.4" x2="157.2" y2="300.8" stroke="#2a2a2a" stroke-width="0.8" />
<rect x="149.2" y="254.2" width="6.8" height="44.2" fill="#2ea3dc" />
<rect x="158" y="264.6" width="6.8" height="33.8" fill="#f39200" />
<line x1="152.6" y1="249.7" x2="152.6" y2="265.2" stroke="#333" stroke-width="0.6" />
<line x1="151.2" y1="249.7" x2="154" y2="249.7" stroke="#333" stroke-width="0.6" />
<circle cx="151.4" cy="251.7" r="1.55" fill="#fff" stroke="#262626" stroke-width="0.7"/>
<rect x="152.6" y="250.1" width="2.6" height="2.6" fill="#fff" stroke="#262626" stroke-width="0.6"/>
<path d="M152.6,248.3 L154.3,250 L152.6,251.7 L150.9,250 Z" fill="#fff" stroke="#262626" stroke-width="0.6"/>
<circle cx="152.6" cy="260.2" r="1.55" fill="#fff" stroke="#262626" stroke-width="0.7"/>
<line x1="161.4" y1="262.1" x2="161.4" y2="267.1" stroke="#333" stroke-width="0.6" />
<line x1="160" y1="262.1" x2="162.8" y2="262.1" stroke="#333" stroke-width="0.6" />
<circle cx="159.8" cy="264.9" r="1.55" fill="#fff" stroke="#262626" stroke-width="0.7"/>
<rect x="161.3" y="261.1" width="2.6" height="2.6" fill="#fff" stroke="#262626" stroke-width="0.6"/>
<circle cx="163" cy="263.6" r="1.55" fill="#fff" stroke="#262626" stroke-width="0.7"/>
<text x="46.6" y="310.8" font-size="7.1" text-anchor="middle" font-weight="normal" font-style="normal" fill="#222" >Expected</text>
<text x="71.6" y="310.8" font-size="7.1" text-anchor="middle" font-weight="normal" font-style="normal" fill="#222" >7</text>
<text x="93" y="310.8" font-size="7.1" text-anchor="middle" font-weight="normal" font-style="normal" fill="#222" >14</text>
<text x="114.4" y="310.8" font-size="7.1" text-anchor="middle" font-weight="normal" font-style="normal" fill="#222" >7</text>
<text x="135.8" y="310.8" font-size="7.1" text-anchor="middle" font-weight="normal" font-style="normal" fill="#222" >13</text>
<text x="159.1" y="310.8" font-size="7.1" text-anchor="middle" font-weight="normal" font-style="normal" fill="#222" >18 Days</text>
<line x1="64.2" y1="313.8" x2="101" y2="313.8" stroke="#555" stroke-width="0.9" />
<line x1="110.2" y1="313.8" x2="163.4" y2="313.8" stroke="#555" stroke-width="0.9" />
<text x="0" y="0" font-size="8.2" fill="#222" text-anchor="middle" transform="translate(82.6,324.4) scale(0.76,1)">Myeloid</text>
<text x="0" y="0" font-size="8.2" fill="#222" text-anchor="middle" transform="translate(136.8,324.4) scale(0.76,1)">Ery</text>
<text x="75.8" y="193.8" font-size="9.6" font-style="italic" fill="#222">CD33+HBG<tspan font-size="6.34" dy="-3.84" font-style="normal" style="stroke-width:0.12px">P</tspan></text>
<line x1="207.2" y1="198.15" x2="207.2" y2="298.4" stroke="#2a2a2a" stroke-width="1.0" />
<line x1="207.2" y1="298.4" x2="337.1" y2="298.4" stroke="#2a2a2a" stroke-width="1.0" />
<line x1="204.4" y1="298.4" x2="207.2" y2="298.4" stroke="#2a2a2a" stroke-width="0.8" />
<text x="202.2" y="300.95" font-size="7.3" text-anchor="end" font-weight="normal" font-style="normal" fill="#222" >0</text>
<line x1="204.4" y1="278.95" x2="207.2" y2="278.95" stroke="#2a2a2a" stroke-width="0.8" />
<text x="202.2" y="281.5" font-size="7.3" text-anchor="end" font-weight="normal" font-style="normal" fill="#222" >20</text>
<line x1="204.4" y1="259.5" x2="207.2" y2="259.5" stroke="#2a2a2a" stroke-width="0.8" />
<text x="202.2" y="262.05" font-size="7.3" text-anchor="end" font-weight="normal" font-style="normal" fill="#222" >40</text>
<line x1="204.4" y1="240.05" x2="207.2" y2="240.05" stroke="#2a2a2a" stroke-width="0.8" />
<text x="202.2" y="242.6" font-size="7.3" text-anchor="end" font-weight="normal" font-style="normal" fill="#222" >60</text>
<line x1="204.4" y1="220.6" x2="207.2" y2="220.6" stroke="#2a2a2a" stroke-width="0.8" />
<text x="202.2" y="223.15" font-size="7.3" text-anchor="end" font-weight="normal" font-style="normal" fill="#222" >80</text>
<line x1="204.4" y1="201.15" x2="207.2" y2="201.15" stroke="#2a2a2a" stroke-width="0.8" />
<text x="202.2" y="203.7" font-size="7.3" text-anchor="end" font-weight="normal" font-style="normal" fill="#222" >100</text>
<text x="0" y="0" font-size="8.6" fill="#222" text-anchor="middle" transform="translate(183.8,248.2) rotate(-90) scale(0.74,1)">% Indels</text>
<line x1="219.1" y1="298.4" x2="219.1" y2="300.8" stroke="#2a2a2a" stroke-width="0.8" />
<rect x="211.1" y="258.3" width="6.8" height="40.1" fill="#2ea3dc" />
<rect x="219.9" y="255.7" width="6.8" height="42.7" fill="#c8102e" />
<line x1="214.5" y1="253.8" x2="214.5" y2="269.3" stroke="#333" stroke-width="0.6" />
<line x1="213.1" y1="253.8" x2="215.9" y2="253.8" stroke="#333" stroke-width="0.6" />
<circle cx="213.3" cy="255.8" r="1.55" fill="#fff" stroke="#262626" stroke-width="0.7"/>
<rect x="214.5" y="254.2" width="2.6" height="2.6" fill="#fff" stroke="#262626" stroke-width="0.6"/>
<path d="M214.5,252.4 L216.2,254.1 L214.5,255.8 L212.8,254.1 Z" fill="#fff" stroke="#262626" stroke-width="0.6"/>
<circle cx="214.5" cy="268.3" r="1.55" fill="#fff" stroke="#262626" stroke-width="0.7"/>
<line x1="223.3" y1="253.2" x2="223.3" y2="258.2" stroke="#333" stroke-width="0.6" />
<line x1="221.9" y1="253.2" x2="224.7" y2="253.2" stroke="#333" stroke-width="0.6" />
<circle cx="221.7" cy="256" r="1.55" fill="#fff" stroke="#262626" stroke-width="0.7"/>
<rect x="223.2" y="252.2" width="2.6" height="2.6" fill="#fff" stroke="#262626" stroke-width="0.6"/>
<circle cx="224.9" cy="254.7" r="1.55" fill="#fff" stroke="#262626" stroke-width="0.7"/>
<line x1="240.3" y1="298.4" x2="240.3" y2="300.8" stroke="#2a2a2a" stroke-width="0.8" />
<rect x="232.3" y="252" width="6.8" height="46.4" fill="#2ea3dc" />
<rect x="241.1" y="254.2" width="6.8" height="44.2" fill="#c8102e" />
<line x1="235.7" y1="247.5" x2="235.7" y2="263" stroke="#333" stroke-width="0.6" />
<line x1="234.3" y1="247.5" x2="237.1" y2="247.5" stroke="#333" stroke-width="0.6" />
<circle cx="234.5" cy="249.5" r="1.55" fill="#fff" stroke="#262626" stroke-width="0.7"/>
<rect x="235.7" y="247.9" width="2.6" height="2.6" fill="#fff" stroke="#262626" stroke-width="0.6"/>
<path d="M235.7,246.1 L237.4,247.8 L235.7,249.5 L234,247.8 Z" fill="#fff" stroke="#262626" stroke-width="0.6"/>
<circle cx="235.7" cy="260" r="1.55" fill="#fff" stroke="#262626" stroke-width="0.7"/>
<line x1="244.5" y1="251.7" x2="244.5" y2="256.7" stroke="#333" stroke-width="0.6" />
<line x1="243.1" y1="251.7" x2="245.9" y2="251.7" stroke="#333" stroke-width="0.6" />
<circle cx="242.9" cy="254.5" r="1.55" fill="#fff" stroke="#262626" stroke-width="0.7"/>
<rect x="244.4" y="250.7" width="2.6" height="2.6" fill="#fff" stroke="#262626" stroke-width="0.6"/>
<circle cx="246.1" cy="253.2" r="1.55" fill="#fff" stroke="#262626" stroke-width="0.7"/>
<line x1="261.5" y1="298.4" x2="261.5" y2="300.8" stroke="#2a2a2a" stroke-width="0.8" />
<rect x="253.5" y="250.4" width="6.8" height="48" fill="#2ea3dc" />
<rect x="262.3" y="258" width="6.8" height="40.4" fill="#c8102e" />
<line x1="256.9" y1="245.9" x2="256.9" y2="261.4" stroke="#333" stroke-width="0.6" />
<line x1="255.5" y1="245.9" x2="258.3" y2="245.9" stroke="#333" stroke-width="0.6" />
<circle cx="255.7" cy="247.9" r="1.55" fill="#fff" stroke="#262626" stroke-width="0.7"/>
<rect x="256.9" y="246.3" width="2.6" height="2.6" fill="#fff" stroke="#262626" stroke-width="0.6"/>
<path d="M256.9,244.5 L258.6,246.2 L256.9,247.9 L255.2,246.2 Z" fill="#fff" stroke="#262626" stroke-width="0.6"/>
<circle cx="256.9" cy="260.4" r="1.55" fill="#fff" stroke="#262626" stroke-width="0.7"/>
<line x1="265.7" y1="255.5" x2="265.7" y2="260.5" stroke="#333" stroke-width="0.6" />
<line x1="264.3" y1="255.5" x2="267.1" y2="255.5" stroke="#333" stroke-width="0.6" />
<circle cx="264.1" cy="258.3" r="1.55" fill="#fff" stroke="#262626" stroke-width="0.7"/>
<rect x="265.6" y="254.5" width="2.6" height="2.6" fill="#fff" stroke="#262626" stroke-width="0.6"/>
<circle cx="267.3" cy="257" r="1.55" fill="#fff" stroke="#262626" stroke-width="0.7"/>
<line x1="282.7" y1="298.4" x2="282.7" y2="300.8" stroke="#2a2a2a" stroke-width="0.8" />
<rect x="274.7" y="245" width="6.8" height="53.4" fill="#2ea3dc" />
<rect x="283.5" y="268" width="6.8" height="30.4" fill="#c8102e" />
<line x1="278.1" y1="240.5" x2="278.1" y2="256" stroke="#333" stroke-width="0.6" />
<line x1="276.7" y1="240.5" x2="279.5" y2="240.5" stroke="#333" stroke-width="0.6" />
<circle cx="276.9" cy="242.5" r="1.55" fill="#fff" stroke="#262626" stroke-width="0.7"/>
<rect x="278.1" y="240.9" width="2.6" height="2.6" fill="#fff" stroke="#262626" stroke-width="0.6"/>
<path d="M278.1,239.1 L279.8,240.8 L278.1,242.5 L276.4,240.8 Z" fill="#fff" stroke="#262626" stroke-width="0.6"/>
<circle cx="278.1" cy="253" r="1.55" fill="#fff" stroke="#262626" stroke-width="0.7"/>
<line x1="286.9" y1="265" x2="286.9" y2="271" stroke="#333" stroke-width="0.6" />
<line x1="285.5" y1="265" x2="288.3" y2="265" stroke="#333" stroke-width="0.6" />
<circle cx="285.5" cy="265.4" r="1.55" fill="#fff" stroke="#262626" stroke-width="0.7"/>
<rect x="287" y="263.1" width="2.6" height="2.6" fill="#fff" stroke="#262626" stroke-width="0.6"/>
<circle cx="288.5" cy="267" r="1.55" fill="#fff" stroke="#262626" stroke-width="0.7"/>
<line x1="303.9" y1="298.4" x2="303.9" y2="300.8" stroke="#2a2a2a" stroke-width="0.8" />
<rect x="295.9" y="241" width="6.8" height="57.4" fill="#2ea3dc" />
<rect x="304.7" y="271" width="6.8" height="27.4" fill="#c8102e" />
<line x1="299.3" y1="236.5" x2="299.3" y2="252" stroke="#333" stroke-width="0.6" />
<line x1="297.9" y1="236.5" x2="300.7" y2="236.5" stroke="#333" stroke-width="0.6" />
<circle cx="298.1" cy="238.5" r="1.55" fill="#fff" stroke="#262626" stroke-width="0.7"/>
<rect x="299.3" y="236.9" width="2.6" height="2.6" fill="#fff" stroke="#262626" stroke-width="0.6"/>
<path d="M299.3,235.1 L301,236.8 L299.3,238.5 L297.6,236.8 Z" fill="#fff" stroke="#262626" stroke-width="0.6"/>
<circle cx="299.3" cy="247" r="1.55" fill="#fff" stroke="#262626" stroke-width="0.7"/>
<line x1="308.1" y1="268" x2="308.1" y2="274" stroke="#333" stroke-width="0.6" />
<line x1="306.7" y1="268" x2="309.5" y2="268" stroke="#333" stroke-width="0.6" />
<circle cx="306.5" cy="269.5" r="1.55" fill="#fff" stroke="#262626" stroke-width="0.7"/>
<rect x="308.2" y="266.1" width="2.6" height="2.6" fill="#fff" stroke="#262626" stroke-width="0.6"/>
<circle cx="309.7" cy="270" r="1.55" fill="#fff" stroke="#262626" stroke-width="0.7"/>
<line x1="325.1" y1="298.4" x2="325.1" y2="300.8" stroke="#2a2a2a" stroke-width="0.8" />
<rect x="317.1" y="243" width="6.8" height="55.4" fill="#2ea3dc" />
<rect x="325.9" y="270.3" width="6.8" height="28.1" fill="#c8102e" />
<line x1="320.5" y1="238.5" x2="320.5" y2="254" stroke="#333" stroke-width="0.6" />
<line x1="319.1" y1="238.5" x2="321.9" y2="238.5" stroke="#333" stroke-width="0.6" />
<circle cx="319.3" cy="240.5" r="1.55" fill="#fff" stroke="#262626" stroke-width="0.7"/>
<rect x="320.5" y="238.9" width="2.6" height="2.6" fill="#fff" stroke="#262626" stroke-width="0.6"/>
<path d="M320.5,237.1 L322.2,238.8 L320.5,240.5 L318.8,238.8 Z" fill="#fff" stroke="#262626" stroke-width="0.6"/>
<circle cx="320.5" cy="249" r="1.55" fill="#fff" stroke="#262626" stroke-width="0.7"/>
<line x1="329.3" y1="267.8" x2="329.3" y2="272.8" stroke="#333" stroke-width="0.6" />
<line x1="327.9" y1="267.8" x2="330.7" y2="267.8" stroke="#333" stroke-width="0.6" />
<circle cx="329.3" cy="266.5" r="1.55" fill="#fff" stroke="#262626" stroke-width="0.7"/>
<circle cx="327.7" cy="271.1" r="1.55" fill="#fff" stroke="#262626" stroke-width="0.7"/>
<circle cx="330.9" cy="271.1" r="1.55" fill="#fff" stroke="#262626" stroke-width="0.7"/>
<text x="215.5" y="310.8" font-size="7.1" text-anchor="middle" font-weight="normal" font-style="normal" fill="#222" >Expected</text>
<text x="240.3" y="310.8" font-size="7.1" text-anchor="middle" font-weight="normal" font-style="normal" fill="#222" >7</text>
<text x="261.5" y="310.8" font-size="7.1" text-anchor="middle" font-weight="normal" font-style="normal" fill="#222" >14</text>
<text x="282.7" y="310.8" font-size="7.1" text-anchor="middle" font-weight="normal" font-style="normal" fill="#222" >7</text>
<text x="303.9" y="310.8" font-size="7.1" text-anchor="middle" font-weight="normal" font-style="normal" fill="#222" >13</text>
<text x="327" y="310.8" font-size="7.1" text-anchor="middle" font-weight="normal" font-style="normal" fill="#222" >18 Days</text>
<line x1="232.9" y1="313.8" x2="269.5" y2="313.8" stroke="#555" stroke-width="0.9" />
<line x1="278.5" y1="313.8" x2="331.3" y2="313.8" stroke="#555" stroke-width="0.9" />
<text x="0" y="0" font-size="8.2" fill="#222" text-anchor="middle" transform="translate(251.2,324.4) scale(0.76,1)">Myeloid</text>
<text x="0" y="0" font-size="8.2" fill="#222" text-anchor="middle" transform="translate(304.9,324.4) scale(0.76,1)">Ery</text>
<text x="237.3" y="193.8" font-size="9.6" font-style="italic" fill="#222">CD33+BCL11A<tspan font-size="6.34" dy="-3.84" font-style="normal" style="stroke-width:0.12px">E</tspan></text>
<polyline points="254.6,225.8 254.6,221.2 308,221.2 308,245" fill="none" stroke="#3a3a3a" stroke-width="0.9"/>
<circle cx="281.3" cy="216.7" r="1.0" fill="#222"/>
<polyline points="254.6,233.5 254.6,230.8 286.2,230.8 286.2,248.8" fill="none" stroke="#3a3a3a" stroke-width="0.9"/>
<circle cx="270.4" cy="226.3" r="1.0" fill="#222"/>
<polyline points="243.8,238 243.8,235 265.4,235 265.4,238" fill="none" stroke="#3a3a3a" stroke-width="0.9"/>
<line x1="375.5" y1="198.15" x2="375.5" y2="298.4" stroke="#2a2a2a" stroke-width="1.0" />
<line x1="375.5" y1="298.4" x2="505.4" y2="298.4" stroke="#2a2a2a" stroke-width="1.0" />
<line x1="372.7" y1="298.4" x2="375.5" y2="298.4" stroke="#2a2a2a" stroke-width="0.8" />
<text x="370.5" y="300.95" font-size="7.3" text-anchor="end" font-weight="normal" font-style="normal" fill="#222" >0</text>
<line x1="372.7" y1="278.95" x2="375.5" y2="278.95" stroke="#2a2a2a" stroke-width="0.8" />
<text x="370.5" y="281.5" font-size="7.3" text-anchor="end" font-weight="normal" font-style="normal" fill="#222" >20</text>
<line x1="372.7" y1="259.5" x2="375.5" y2="259.5" stroke="#2a2a2a" stroke-width="0.8" />
<text x="370.5" y="262.05" font-size="7.3" text-anchor="end" font-weight="normal" font-style="normal" fill="#222" >40</text>
<line x1="372.7" y1="240.05" x2="375.5" y2="240.05" stroke="#2a2a2a" stroke-width="0.8" />
<text x="370.5" y="242.6" font-size="7.3" text-anchor="end" font-weight="normal" font-style="normal" fill="#222" >60</text>
<line x1="372.7" y1="220.6" x2="375.5" y2="220.6" stroke="#2a2a2a" stroke-width="0.8" />
<text x="370.5" y="223.15" font-size="7.3" text-anchor="end" font-weight="normal" font-style="normal" fill="#222" >80</text>
<line x1="372.7" y1="201.15" x2="375.5" y2="201.15" stroke="#2a2a2a" stroke-width="0.8" />
<text x="370.5" y="203.7" font-size="7.3" text-anchor="end" font-weight="normal" font-style="normal" fill="#222" >100</text>
<text x="0" y="0" font-size="8.6" fill="#222" text-anchor="middle" transform="translate(352.1,248.2) rotate(-90) scale(0.74,1)">% Indels</text>
<line x1="388.1" y1="298.4" x2="388.1" y2="300.8" stroke="#2a2a2a" stroke-width="0.8" />
<rect x="380.1" y="259.2" width="6.8" height="39.2" fill="#f39200" />
<rect x="388.9" y="255.7" width="6.8" height="42.7" fill="#c8102e" />
<line x1="383.5" y1="256.7" x2="383.5" y2="261.7" stroke="#333" stroke-width="0.6" />
<line x1="382.1" y1="256.7" x2="384.9" y2="256.7" stroke="#333" stroke-width="0.6" />
<circle cx="381.9" cy="259.5" r="1.55" fill="#fff" stroke="#262626" stroke-width="0.7"/>
<rect x="383.4" y="255.7" width="2.6" height="2.6" fill="#fff" stroke="#262626" stroke-width="0.6"/>
<circle cx="385.1" cy="258.2" r="1.55" fill="#fff" stroke="#262626" stroke-width="0.7"/>
<line x1="392.3" y1="253.2" x2="392.3" y2="258.2" stroke="#333" stroke-width="0.6" />
<line x1="390.9" y1="253.2" x2="393.7" y2="253.2" stroke="#333" stroke-width="0.6" />
<circle cx="390.7" cy="256" r="1.55" fill="#fff" stroke="#262626" stroke-width="0.7"/>
<rect x="392.2" y="252.2" width="2.6" height="2.6" fill="#fff" stroke="#262626" stroke-width="0.6"/>
<circle cx="393.9" cy="254.7" r="1.55" fill="#fff" stroke="#262626" stroke-width="0.7"/>
<line x1="409.2" y1="298.4" x2="409.2" y2="300.8" stroke="#2a2a2a" stroke-width="0.8" />
<rect x="401.2" y="261" width="6.8" height="37.4" fill="#f39200" />
<rect x="410" y="256" width="6.8" height="42.4" fill="#c8102e" />
<line x1="404.6" y1="258.5" x2="404.6" y2="263.5" stroke="#333" stroke-width="0.6" />
<line x1="403.2" y1="258.5" x2="406" y2="258.5" stroke="#333" stroke-width="0.6" />
<circle cx="403" cy="261.3" r="1.55" fill="#fff" stroke="#262626" stroke-width="0.7"/>
<rect x="404.5" y="257.5" width="2.6" height="2.6" fill="#fff" stroke="#262626" stroke-width="0.6"/>
<circle cx="406.2" cy="260" r="1.55" fill="#fff" stroke="#262626" stroke-width="0.7"/>
<line x1="413.4" y1="253.5" x2="413.4" y2="258.5" stroke="#333" stroke-width="0.6" />
<line x1="412" y1="253.5" x2="414.8" y2="253.5" stroke="#333" stroke-width="0.6" />
<circle cx="411.8" cy="256.3" r="1.55" fill="#fff" stroke="#262626" stroke-width="0.7"/>
<rect x="413.3" y="252.5" width="2.6" height="2.6" fill="#fff" stroke="#262626" stroke-width="0.6"/>
<circle cx="415" cy="255" r="1.55" fill="#fff" stroke="#262626" stroke-width="0.7"/>
<line x1="430.3" y1="298.4" x2="430.3" y2="300.8" stroke="#2a2a2a" stroke-width="0.8" />
<rect x="422.3" y="259.8" width="6.8" height="38.6" fill="#f39200" />
<rect x="431.1" y="256.9" width="6.8" height="41.5" fill="#c8102e" />
<line x1="425.7" y1="257.3" x2="425.7" y2="262.3" stroke="#333" stroke-width="0.6" />
<line x1="424.3" y1="257.3" x2="427.1" y2="257.3" stroke="#333" stroke-width="0.6" />
<circle cx="424.1" cy="260.1" r="1.55" fill="#fff" stroke="#262626" stroke-width="0.7"/>
<rect x="425.6" y="256.3" width="2.6" height="2.6" fill="#fff" stroke="#262626" stroke-width="0.6"/>
<circle cx="427.3" cy="258.8" r="1.55" fill="#fff" stroke="#262626" stroke-width="0.7"/>
<line x1="434.5" y1="254.4" x2="434.5" y2="259.4" stroke="#333" stroke-width="0.6" />
<line x1="433.1" y1="254.4" x2="435.9" y2="254.4" stroke="#333" stroke-width="0.6" />
<circle cx="432.9" cy="257.2" r="1.55" fill="#fff" stroke="#262626" stroke-width="0.7"/>
<rect x="434.4" y="253.4" width="2.6" height="2.6" fill="#fff" stroke="#262626" stroke-width="0.6"/>
<circle cx="436.1" cy="255.9" r="1.55" fill="#fff" stroke="#262626" stroke-width="0.7"/>
<line x1="451.4" y1="298.4" x2="451.4" y2="300.8" stroke="#2a2a2a" stroke-width="0.8" />
<rect x="443.4" y="254" width="6.8" height="44.4" fill="#f39200" />
<rect x="452.2" y="266.2" width="6.8" height="32.2" fill="#c8102e" />
<line x1="446.8" y1="246" x2="446.8" y2="262" stroke="#333" stroke-width="0.6" />
<line x1="445.4" y1="246" x2="448.2" y2="246" stroke="#333" stroke-width="0.6" />
<circle cx="446.8" cy="246" r="1.55" fill="#fff" stroke="#262626" stroke-width="0.7"/>
<circle cx="446.8" cy="251.5" r="1.55" fill="#fff" stroke="#262626" stroke-width="0.7"/>
<circle cx="446.8" cy="256" r="1.55" fill="#fff" stroke="#262626" stroke-width="0.7"/>
<circle cx="446.8" cy="260" r="1.55" fill="#fff" stroke="#262626" stroke-width="0.7"/>
<line x1="455.6" y1="263.2" x2="455.6" y2="269.2" stroke="#333" stroke-width="0.6" />
<line x1="454.2" y1="263.2" x2="457" y2="263.2" stroke="#333" stroke-width="0.6" />
<circle cx="454.2" cy="262.6" r="1.55" fill="#fff" stroke="#262626" stroke-width="0.7"/>
<circle cx="457" cy="263.4" r="1.55" fill="#fff" stroke="#262626" stroke-width="0.7"/>
<circle cx="455.6" cy="272" r="1.55" fill="#fff" stroke="#262626" stroke-width="0.7"/>
<line x1="472.5" y1="298.4" x2="472.5" y2="300.8" stroke="#2a2a2a" stroke-width="0.8" />
<rect x="464.5" y="248.3" width="6.8" height="50.1" fill="#f39200" />
<rect x="473.3" y="268.5" width="6.8" height="29.9" fill="#c8102e" />
<line x1="467.9" y1="241.8" x2="467.9" y2="254.3" stroke="#333" stroke-width="0.6" />
<line x1="466.5" y1="241.8" x2="469.3" y2="241.8" stroke="#333" stroke-width="0.6" />
<circle cx="467.9" cy="242" r="1.55" fill="#fff" stroke="#262626" stroke-width="0.7"/>
<circle cx="466.3" cy="246.5" r="1.55" fill="#fff" stroke="#262626" stroke-width="0.7"/>
<circle cx="469.7" cy="249" r="1.55" fill="#fff" stroke="#262626" stroke-width="0.7"/>
<circle cx="467.9" cy="254.3" r="1.55" fill="#fff" stroke="#262626" stroke-width="0.7"/>
<line x1="476.7" y1="265.5" x2="476.7" y2="271.5" stroke="#333" stroke-width="0.6" />
<line x1="475.3" y1="265.5" x2="478.1" y2="265.5" stroke="#333" stroke-width="0.6" />
<circle cx="475.1" cy="266.5" r="1.55" fill="#fff" stroke="#262626" stroke-width="0.7"/>
<circle cx="478.3" cy="266.5" r="1.55" fill="#fff" stroke="#262626" stroke-width="0.7"/>
<circle cx="476.7" cy="274" r="1.55" fill="#fff" stroke="#262626" stroke-width="0.7"/>
<line x1="493.6" y1="298.4" x2="493.6" y2="300.8" stroke="#2a2a2a" stroke-width="0.8" />
<rect x="485.6" y="249.6" width="6.8" height="48.8" fill="#f39200" />
<rect x="494.4" y="266.9" width="6.8" height="31.5" fill="#c8102e" />
<line x1="489" y1="246.1" x2="489" y2="254.1" stroke="#333" stroke-width="0.6" />
<line x1="487.6" y1="246.1" x2="490.4" y2="246.1" stroke="#333" stroke-width="0.6" />
<circle cx="487.2" cy="246.6" r="1.55" fill="#fff" stroke="#262626" stroke-width="0.7"/>
<path d="M490.2,244.3 L491.9,246 L490.2,247.7 L488.5,246 Z" fill="#fff" stroke="#262626" stroke-width="0.6"/>
<circle cx="489" cy="254" r="1.55" fill="#fff" stroke="#262626" stroke-width="0.7"/>
<line x1="497.8" y1="264.9" x2="497.8" y2="268.9" stroke="#333" stroke-width="0.6" />
<line x1="496.4" y1="264.9" x2="499.2" y2="264.9" stroke="#333" stroke-width="0.6" />
<circle cx="496.2" cy="265.1" r="1.55" fill="#fff" stroke="#262626" stroke-width="0.7"/>
<circle cx="499.4" cy="265.1" r="1.55" fill="#fff" stroke="#262626" stroke-width="0.7"/>
<text x="384.5" y="310.8" font-size="7.1" text-anchor="middle" font-weight="normal" font-style="normal" fill="#222" >Expected</text>
<text x="409.2" y="310.8" font-size="7.1" text-anchor="middle" font-weight="normal" font-style="normal" fill="#222" >7</text>
<text x="430.3" y="310.8" font-size="7.1" text-anchor="middle" font-weight="normal" font-style="normal" fill="#222" >14</text>
<text x="451.4" y="310.8" font-size="7.1" text-anchor="middle" font-weight="normal" font-style="normal" fill="#222" >7</text>
<text x="472.5" y="310.8" font-size="7.1" text-anchor="middle" font-weight="normal" font-style="normal" fill="#222" >13</text>
<text x="495.5" y="310.8" font-size="7.1" text-anchor="middle" font-weight="normal" font-style="normal" fill="#222" >18 Days</text>
<line x1="401.8" y1="313.8" x2="438.3" y2="313.8" stroke="#555" stroke-width="0.9" />
<line x1="447.2" y1="313.8" x2="499.8" y2="313.8" stroke="#555" stroke-width="0.9" />
<text x="0" y="0" font-size="8.2" fill="#222" text-anchor="middle" transform="translate(420.05,324.4) scale(0.76,1)">Myeloid</text>
<text x="0" y="0" font-size="8.2" fill="#222" text-anchor="middle" transform="translate(473.5,324.4) scale(0.76,1)">Ery</text>
<text x="405.7" y="193.8" font-size="9.6" font-style="italic" fill="#222">HBG<tspan font-size="6.34" dy="-3.84" font-style="normal" style="stroke-width:0.12px">P</tspan><tspan dy="3.84">+BCL11A</tspan><tspan font-size="6.34" dy="-3.84" font-style="normal" style="stroke-width:0.12px">E</tspan></text>
<polyline points="424.4,222.3 424.4,218.5 498.5,218.5 498.5,252.1" fill="none" stroke="#3a3a3a" stroke-width="0.9"/>
<circle cx="461.45" cy="214" r="1.0" fill="#222"/>
<polyline points="424.4,232.5 424.4,228.7 477.3,228.7 477.3,252.1" fill="none" stroke="#3a3a3a" stroke-width="0.9"/>
<circle cx="450.85" cy="224.2" r="1.0" fill="#222"/>
<polyline points="424.4,241.5 424.4,238.7 456.5,238.7 456.5,254" fill="none" stroke="#3a3a3a" stroke-width="0.9"/>
<circle cx="440.45" cy="234.2" r="1.0" fill="#222"/>
<polyline points="411.5,245.4 411.5,242.5 433.5,242.5 433.5,245.4" fill="none" stroke="#3a3a3a" stroke-width="0.9"/>
<rect x="217.4" y="336.6" width="5.3" height="5" fill="#2ea3dc" />
<text x="226.3" y="341.8" font-size="7.4" text-anchor="start" font-weight="normal" font-style="italic" fill="#222" >CD33</text>
<rect x="251" y="336.6" width="5.3" height="5" fill="#f39200" />
<text x="260.8" y="341.8" font-size="7.4" text-anchor="start" font-weight="normal" font-style="italic" fill="#222" >HBG<tspan font-size="5.33" dy="-2.66" font-style="normal" style="stroke-width:0.12px">P</tspan></text>
<rect x="286.8" y="336.6" width="5.3" height="5" fill="#c8102e" />
<text x="294.9" y="341.8" font-size="7.4" text-anchor="start" font-weight="normal" font-style="italic" fill="#222" >BCL11A<tspan font-size="5.33" dy="-2.66" font-style="normal" style="stroke-width:0.12px">E</tspan></text>
<line x1="38.65" y1="368.18" x2="38.65" y2="472.1" stroke="#2a2a2a" stroke-width="1.0" />
<line x1="38.65" y1="472.1" x2="173.15" y2="472.1" stroke="#2a2a2a" stroke-width="1.0" />
<line x1="35.85" y1="472.1" x2="38.65" y2="472.1" stroke="#2a2a2a" stroke-width="0.8" />
<text x="33.65" y="474.65" font-size="7.3" text-anchor="end" font-weight="normal" font-style="normal" fill="#222" >0</text>
<line x1="35.85" y1="446.87" x2="38.65" y2="446.87" stroke="#2a2a2a" stroke-width="0.8" />
<text x="33.65" y="449.42" font-size="7.3" text-anchor="end" font-weight="normal" font-style="normal" fill="#222" >20</text>
<line x1="35.85" y1="421.64" x2="38.65" y2="421.64" stroke="#2a2a2a" stroke-width="0.8" />
<text x="33.65" y="424.19" font-size="7.3" text-anchor="end" font-weight="normal" font-style="normal" fill="#222" >40</text>
<line x1="35.85" y1="396.41" x2="38.65" y2="396.41" stroke="#2a2a2a" stroke-width="0.8" />
<text x="33.65" y="398.96" font-size="7.3" text-anchor="end" font-weight="normal" font-style="normal" fill="#222" >60</text>
<line x1="35.85" y1="371.18" x2="38.65" y2="371.18" stroke="#2a2a2a" stroke-width="0.8" />
<text x="33.65" y="373.73" font-size="7.3" text-anchor="end" font-weight="normal" font-style="normal" fill="#222" >80</text>
<text x="0" y="0" font-size="8.6" fill="#222" text-anchor="middle" transform="translate(14.35,422.5) rotate(-90) scale(0.74,1)">% Indels</text>
<line x1="51.35" y1="472.1" x2="51.35" y2="474.5" stroke="#2a2a2a" stroke-width="0.8" />
<rect x="42.95" y="424.5" width="7" height="47.6" fill="#2ea3dc" />
<rect x="52.45" y="415.9" width="7" height="56.2" fill="#f39200" />
<line x1="46.45" y1="419.5" x2="46.45" y2="427.5" stroke="#333" stroke-width="0.6" />
<line x1="45.05" y1="419.5" x2="47.85" y2="419.5" stroke="#333" stroke-width="0.6" />
<circle cx="46.45" cy="420.7" r="1.45" fill="#fff" stroke="#262626" stroke-width="0.7"/>
<circle cx="46.45" cy="426" r="1.45" fill="#fff" stroke="#262626" stroke-width="0.7"/>
<circle cx="54.45" cy="415.9" r="1.45" fill="#fff" stroke="#262626" stroke-width="0.7"/>
<circle cx="57.45" cy="415.5" r="1.45" fill="#fff" stroke="#262626" stroke-width="0.7"/>
<text x="0" y="0" font-size="7.9" fill="#222" text-anchor="end" transform="translate(56.55,481.1) rotate(-45)">BFU-E</text>
<line x1="78.8" y1="472.1" x2="78.8" y2="474.5" stroke="#2a2a2a" stroke-width="0.8" />
<rect x="70.4" y="419.6" width="7" height="52.5" fill="#2ea3dc" />
<rect x="79.9" y="419.8" width="7" height="52.3" fill="#f39200" />
<circle cx="72.4" cy="419.6" r="1.45" fill="#fff" stroke="#262626" stroke-width="0.7"/>
<circle cx="75.4" cy="419.2" r="1.45" fill="#fff" stroke="#262626" stroke-width="0.7"/>
<circle cx="81.9" cy="419.8" r="1.45" fill="#fff" stroke="#262626" stroke-width="0.7"/>
<circle cx="84.9" cy="419.4" r="1.45" fill="#fff" stroke="#262626" stroke-width="0.7"/>
<text x="0" y="0" font-size="7.9" fill="#222" text-anchor="end" transform="translate(84,481.1) rotate(-45)">CFU-E</text>
<line x1="106.25" y1="472.1" x2="106.25" y2="474.5" stroke="#2a2a2a" stroke-width="0.8" />
<rect x="97.85" y="418.7" width="7" height="53.4" fill="#2ea3dc" />
<rect x="107.35" y="423.6" width="7" height="48.5" fill="#f39200" />
<circle cx="99.85" cy="418.7" r="1.45" fill="#fff" stroke="#262626" stroke-width="0.7"/>
<circle cx="102.85" cy="418.3" r="1.45" fill="#fff" stroke="#262626" stroke-width="0.7"/>
<circle cx="109.35" cy="423.6" r="1.45" fill="#fff" stroke="#262626" stroke-width="0.7"/>
<circle cx="112.35" cy="423.2" r="1.45" fill="#fff" stroke="#262626" stroke-width="0.7"/>
<text x="0" y="0" font-size="7.9" fill="#222" text-anchor="end" transform="translate(111.45,481.1) rotate(-45)">ProE</text>
<line x1="133.7" y1="472.1" x2="133.7" y2="474.5" stroke="#2a2a2a" stroke-width="0.8" />
<rect x="125.3" y="420.7" width="7" height="51.4" fill="#2ea3dc" />
<rect x="134.8" y="424.5" width="7" height="47.6" fill="#f39200" />
<circle cx="127.3" cy="420.7" r="1.45" fill="#fff" stroke="#262626" stroke-width="0.7"/>
<circle cx="130.3" cy="420.3" r="1.45" fill="#fff" stroke="#262626" stroke-width="0.7"/>
<line x1="138.3" y1="420" x2="138.3" y2="427.2" stroke="#333" stroke-width="0.6" />
<line x1="136.9" y1="420" x2="139.7" y2="420" stroke="#333" stroke-width="0.6" />
<circle cx="138.3" cy="421.2" r="1.45" fill="#fff" stroke="#262626" stroke-width="0.7"/>
<circle cx="138.3" cy="426" r="1.45" fill="#fff" stroke="#262626" stroke-width="0.7"/>
<text x="0" y="0" font-size="7.9" fill="#222" text-anchor="end" transform="translate(138.9,481.1) rotate(-45)">BasoE</text>
<line x1="161.15" y1="472.1" x2="161.15" y2="474.5" stroke="#2a2a2a" stroke-width="0.8" />
<rect x="152.75" y="420.2" width="7" height="51.9" fill="#2ea3dc" />
<rect x="162.25" y="419.6" width="7" height="52.5" fill="#f39200" />
<circle cx="154.75" cy="420.2" r="1.45" fill="#fff" stroke="#262626" stroke-width="0.7"/>
<circle cx="157.75" cy="419.8" r="1.45" fill="#fff" stroke="#262626" stroke-width="0.7"/>
<circle cx="164.25" cy="419.6" r="1.45" fill="#fff" stroke="#262626" stroke-width="0.7"/>
<circle cx="167.25" cy="419.2" r="1.45" fill="#fff" stroke="#262626" stroke-width="0.7"/>
<text x="0" y="0" font-size="7.9" fill="#222" text-anchor="end" transform="translate(166.35,481.1) rotate(-45)">PolyE</text>
<text x="77.5" y="363.4" font-size="9.6" font-style="italic" fill="#222">CD33+HBG<tspan font-size="6.34" dy="-3.84" font-style="normal" style="stroke-width:0.12px">P</tspan></text>
<line x1="208.65" y1="368.18" x2="208.65" y2="472.1" stroke="#2a2a2a" stroke-width="1.0" />
<line x1="208.65" y1="472.1" x2="343.15" y2="472.1" stroke="#2a2a2a" stroke-width="1.0" />
<line x1="205.85" y1="472.1" x2="208.65" y2="472.1" stroke="#2a2a2a" stroke-width="0.8" />
<text x="203.65" y="474.65" font-size="7.3" text-anchor="end" font-weight="normal" font-style="normal" fill="#222" >0</text>
<line x1="205.85" y1="446.87" x2="208.65" y2="446.87" stroke="#2a2a2a" stroke-width="0.8" />
<text x="203.65" y="449.42" font-size="7.3" text-anchor="end" font-weight="normal" font-style="normal" fill="#222" >20</text>
<line x1="205.85" y1="421.64" x2="208.65" y2="421.64" stroke="#2a2a2a" stroke-width="0.8" />
<text x="203.65" y="424.19" font-size="7.3" text-anchor="end" font-weight="normal" font-style="normal" fill="#222" >40</text>
<line x1="205.85" y1="396.41" x2="208.65" y2="396.41" stroke="#2a2a2a" stroke-width="0.8" />
<text x="203.65" y="398.96" font-size="7.3" text-anchor="end" font-weight="normal" font-style="normal" fill="#222" >60</text>
<line x1="205.85" y1="371.18" x2="208.65" y2="371.18" stroke="#2a2a2a" stroke-width="0.8" />
<text x="203.65" y="373.73" font-size="7.3" text-anchor="end" font-weight="normal" font-style="normal" fill="#222" >80</text>
<text x="0" y="0" font-size="8.6" fill="#222" text-anchor="middle" transform="translate(184.35,422.5) rotate(-90) scale(0.74,1)">% Indels</text>
<line x1="221.35" y1="472.1" x2="221.35" y2="474.5" stroke="#2a2a2a" stroke-width="0.8" />
<rect x="212.95" y="404.5" width="7" height="67.6" fill="#2ea3dc" />
<rect x="222.45" y="426.8" width="7" height="45.3" fill="#c8102e" />
<circle cx="214.95" cy="404.5" r="1.45" fill="#fff" stroke="#262626" stroke-width="0.7"/>
<circle cx="217.95" cy="404.1" r="1.45" fill="#fff" stroke="#262626" stroke-width="0.7"/>
<circle cx="224.45" cy="426.8" r="1.45" fill="#fff" stroke="#262626" stroke-width="0.7"/>
<circle cx="227.45" cy="426.4" r="1.45" fill="#fff" stroke="#262626" stroke-width="0.7"/>
<text x="0" y="0" font-size="7.9" fill="#222" text-anchor="end" transform="translate(226.55,481.1) rotate(-45)">BFU-E</text>
<line x1="248.8" y1="472.1" x2="248.8" y2="474.5" stroke="#2a2a2a" stroke-width="0.8" />
<rect x="240.4" y="405" width="7" height="67.1" fill="#2ea3dc" />
<rect x="249.9" y="417.1" width="7" height="55" fill="#c8102e" />
<circle cx="242.4" cy="405" r="1.45" fill="#fff" stroke="#262626" stroke-width="0.7"/>
<circle cx="245.4" cy="404.6" r="1.45" fill="#fff" stroke="#262626" stroke-width="0.7"/>
<line x1="253.4" y1="412.6" x2="253.4" y2="419.8" stroke="#333" stroke-width="0.6" />
<line x1="252" y1="412.6" x2="254.8" y2="412.6" stroke="#333" stroke-width="0.6" />
<circle cx="253.4" cy="413.8" r="1.45" fill="#fff" stroke="#262626" stroke-width="0.7"/>
<circle cx="253.4" cy="418.6" r="1.45" fill="#fff" stroke="#262626" stroke-width="0.7"/>
<text x="0" y="0" font-size="7.9" fill="#222" text-anchor="end" transform="translate(254,481.1) rotate(-45)">CFU-E</text>
<line x1="276.25" y1="472.1" x2="276.25" y2="474.5" stroke="#2a2a2a" stroke-width="0.8" />
<rect x="267.85" y="395" width="7" height="77.1" fill="#2ea3dc" />
<rect x="277.35" y="431.4" width="7" height="40.7" fill="#c8102e" />
<circle cx="269.85" cy="395" r="1.45" fill="#fff" stroke="#262626" stroke-width="0.7"/>
<circle cx="272.85" cy="394.6" r="1.45" fill="#fff" stroke="#262626" stroke-width="0.7"/>
<circle cx="279.35" cy="431.4" r="1.45" fill="#fff" stroke="#262626" stroke-width="0.7"/>
<circle cx="282.35" cy="431" r="1.45" fill="#fff" stroke="#262626" stroke-width="0.7"/>
<text x="0" y="0" font-size="7.9" fill="#222" text-anchor="end" transform="translate(281.45,481.1) rotate(-45)">ProE</text>
<line x1="303.7" y1="472.1" x2="303.7" y2="474.5" stroke="#2a2a2a" stroke-width="0.8" />
<rect x="295.3" y="391.5" width="7" height="80.6" fill="#2ea3dc" />
<rect x="304.8" y="437.6" width="7" height="34.5" fill="#c8102e" />
<circle cx="297.3" cy="391.5" r="1.45" fill="#fff" stroke="#262626" stroke-width="0.7"/>
<circle cx="300.3" cy="391.1" r="1.45" fill="#fff" stroke="#262626" stroke-width="0.7"/>
<circle cx="306.8" cy="437.6" r="1.45" fill="#fff" stroke="#262626" stroke-width="0.7"/>
<circle cx="309.8" cy="437.2" r="1.45" fill="#fff" stroke="#262626" stroke-width="0.7"/>
<text x="0" y="0" font-size="7.9" fill="#222" text-anchor="end" transform="translate(308.9,481.1) rotate(-45)">BasoE</text>
<line x1="331.15" y1="472.1" x2="331.15" y2="474.5" stroke="#2a2a2a" stroke-width="0.8" />
<rect x="322.75" y="384.3" width="7" height="87.8" fill="#2ea3dc" />
<rect x="332.25" y="444.4" width="7" height="27.7" fill="#c8102e" />
<circle cx="324.75" cy="384.3" r="1.45" fill="#fff" stroke="#262626" stroke-width="0.7"/>
<circle cx="327.75" cy="383.9" r="1.45" fill="#fff" stroke="#262626" stroke-width="0.7"/>
<circle cx="334.25" cy="444.4" r="1.45" fill="#fff" stroke="#262626" stroke-width="0.7"/>
<circle cx="337.25" cy="444" r="1.45" fill="#fff" stroke="#262626" stroke-width="0.7"/>
<text x="0" y="0" font-size="7.9" fill="#222" text-anchor="end" transform="translate(336.35,481.1) rotate(-45)">PolyE</text>
<text x="240" y="363.4" font-size="9.6" font-style="italic" fill="#222">CD33+BCL11A<tspan font-size="6.34" dy="-3.84" font-style="normal" style="stroke-width:0.12px">E</tspan></text>
<line x1="378.6" y1="368.18" x2="378.6" y2="472.1" stroke="#2a2a2a" stroke-width="1.0" />
<line x1="378.6" y1="472.1" x2="513.1" y2="472.1" stroke="#2a2a2a" stroke-width="1.0" />
<line x1="375.8" y1="472.1" x2="378.6" y2="472.1" stroke="#2a2a2a" stroke-width="0.8" />
<text x="373.6" y="474.65" font-size="7.3" text-anchor="end" font-weight="normal" font-style="normal" fill="#222" >0</text>
<line x1="375.8" y1="446.87" x2="378.6" y2="446.87" stroke="#2a2a2a" stroke-width="0.8" />
<text x="373.6" y="449.42" font-size="7.3" text-anchor="end" font-weight="normal" font-style="normal" fill="#222" >20</text>
<line x1="375.8" y1="421.64" x2="378.6" y2="421.64" stroke="#2a2a2a" stroke-width="0.8" />
<text x="373.6" y="424.19" font-size="7.3" text-anchor="end" font-weight="normal" font-style="normal" fill="#222" >40</text>
<line x1="375.8" y1="396.41" x2="378.6" y2="396.41" stroke="#2a2a2a" stroke-width="0.8" />
<text x="373.6" y="398.96" font-size="7.3" text-anchor="end" font-weight="normal" font-style="normal" fill="#222" >60</text>
<line x1="375.8" y1="371.18" x2="378.6" y2="371.18" stroke="#2a2a2a" stroke-width="0.8" />
<text x="373.6" y="373.73" font-size="7.3" text-anchor="end" font-weight="normal" font-style="normal" fill="#222" >80</text>
<text x="0" y="0" font-size="8.6" fill="#222" text-anchor="middle" transform="translate(354.3,422.5) rotate(-90) scale(0.74,1)">% Indels</text>
<line x1="391.3" y1="472.1" x2="391.3" y2="474.5" stroke="#2a2a2a" stroke-width="0.8" />
<rect x="382.9" y="407.2" width="7" height="64.9" fill="#f39200" />
<rect x="392.4" y="427.4" width="7" height="44.7" fill="#c8102e" />
<circle cx="384.9" cy="407.2" r="1.45" fill="#fff" stroke="#262626" stroke-width="0.7"/>
<circle cx="387.9" cy="406.8" r="1.45" fill="#fff" stroke="#262626" stroke-width="0.7"/>
<circle cx="394.4" cy="427.4" r="1.45" fill="#fff" stroke="#262626" stroke-width="0.7"/>
<circle cx="397.4" cy="427" r="1.45" fill="#fff" stroke="#262626" stroke-width="0.7"/>
<text x="0" y="0" font-size="7.9" fill="#222" text-anchor="end" transform="translate(396.5,481.1) rotate(-45)">BFU-E</text>
<line x1="418.75" y1="472.1" x2="418.75" y2="474.5" stroke="#2a2a2a" stroke-width="0.8" />
<rect x="410.35" y="416.6" width="7" height="55.5" fill="#f39200" />
<rect x="419.85" y="418.8" width="7" height="53.3" fill="#c8102e" />
<circle cx="412.35" cy="416.6" r="1.45" fill="#fff" stroke="#262626" stroke-width="0.7"/>
<circle cx="415.35" cy="416.2" r="1.45" fill="#fff" stroke="#262626" stroke-width="0.7"/>
<line x1="423.35" y1="414.3" x2="423.35" y2="421.5" stroke="#333" stroke-width="0.6" />
<line x1="421.95" y1="414.3" x2="424.75" y2="414.3" stroke="#333" stroke-width="0.6" />
<circle cx="423.35" cy="415.5" r="1.45" fill="#fff" stroke="#262626" stroke-width="0.7"/>
<circle cx="423.35" cy="420.3" r="1.45" fill="#fff" stroke="#262626" stroke-width="0.7"/>
<text x="0" y="0" font-size="7.9" fill="#222" text-anchor="end" transform="translate(423.95,481.1) rotate(-45)">CFU-E</text>
<line x1="446.2" y1="472.1" x2="446.2" y2="474.5" stroke="#2a2a2a" stroke-width="0.8" />
<rect x="437.8" y="406.4" width="7" height="65.7" fill="#f39200" />
<rect x="447.3" y="430" width="7" height="42.1" fill="#c8102e" />
<circle cx="439.8" cy="406.4" r="1.45" fill="#fff" stroke="#262626" stroke-width="0.7"/>
<circle cx="442.8" cy="406" r="1.45" fill="#fff" stroke="#262626" stroke-width="0.7"/>
<circle cx="449.3" cy="430" r="1.45" fill="#fff" stroke="#262626" stroke-width="0.7"/>
<circle cx="452.3" cy="429.6" r="1.45" fill="#fff" stroke="#262626" stroke-width="0.7"/>
<text x="0" y="0" font-size="7.9" fill="#222" text-anchor="end" transform="translate(451.4,481.1) rotate(-45)">ProE</text>
<line x1="473.65" y1="472.1" x2="473.65" y2="474.5" stroke="#2a2a2a" stroke-width="0.8" />
<rect x="465.25" y="393.7" width="7" height="78.4" fill="#f39200" />
<rect x="474.75" y="441.7" width="7" height="30.4" fill="#c8102e" />
<circle cx="467.25" cy="393.7" r="1.45" fill="#fff" stroke="#262626" stroke-width="0.7"/>
<circle cx="470.25" cy="393.3" r="1.45" fill="#fff" stroke="#262626" stroke-width="0.7"/>
<circle cx="476.75" cy="441.7" r="1.45" fill="#fff" stroke="#262626" stroke-width="0.7"/>
<circle cx="479.75" cy="441.3" r="1.45" fill="#fff" stroke="#262626" stroke-width="0.7"/>
<text x="0" y="0" font-size="7.9" fill="#222" text-anchor="end" transform="translate(478.85,481.1) rotate(-45)">BasoE</text>
<line x1="501.1" y1="472.1" x2="501.1" y2="474.5" stroke="#2a2a2a" stroke-width="0.8" />
<rect x="492.7" y="391.8" width="7" height="80.3" fill="#f39200" />
<rect x="502.2" y="440.3" width="7" height="31.8" fill="#c8102e" />
<circle cx="494.7" cy="391.8" r="1.45" fill="#fff" stroke="#262626" stroke-width="0.7"/>
<circle cx="497.7" cy="391.4" r="1.45" fill="#fff" stroke="#262626" stroke-width="0.7"/>
<circle cx="504.2" cy="440.3" r="1.45" fill="#fff" stroke="#262626" stroke-width="0.7"/>
<circle cx="507.2" cy="439.9" r="1.45" fill="#fff" stroke="#262626" stroke-width="0.7"/>
<text x="0" y="0" font-size="7.9" fill="#222" text-anchor="end" transform="translate(506.3,481.1) rotate(-45)">PolyE</text>
<text x="400.2" y="363.4" font-size="9.6" font-style="italic" fill="#222">HBG<tspan font-size="6.34" dy="-3.84" font-style="normal" style="stroke-width:0.12px">P</tspan><tspan dy="3.84">+BCL11A</tspan><tspan font-size="6.34" dy="-3.84" font-style="normal" style="stroke-width:0.12px">E</tspan></text>
<rect x="221.8" y="509.3" width="5" height="5" fill="#2ea3dc" />
<text x="230.5" y="514.5" font-size="7.4" text-anchor="start" font-weight="normal" font-style="italic" fill="#222" >CD33</text>
<rect x="256" y="509.3" width="5" height="5" fill="#f39200" />
<text x="264.6" y="514.5" font-size="7.4" text-anchor="start" font-weight="normal" font-style="italic" fill="#222" >HBG<tspan font-size="5.33" dy="-2.66" font-style="normal" style="stroke-width:0.12px">P</tspan></text>
<rect x="291.1" y="509.3" width="5" height="5" fill="#c8102e" />
<text x="299.2" y="514.5" font-size="7.4" text-anchor="start" font-weight="normal" font-style="italic" fill="#222" >BCL11A<tspan font-size="5.33" dy="-2.66" font-style="normal" style="stroke-width:0.12px">E</tspan></text>
</svg>
</body></html>
